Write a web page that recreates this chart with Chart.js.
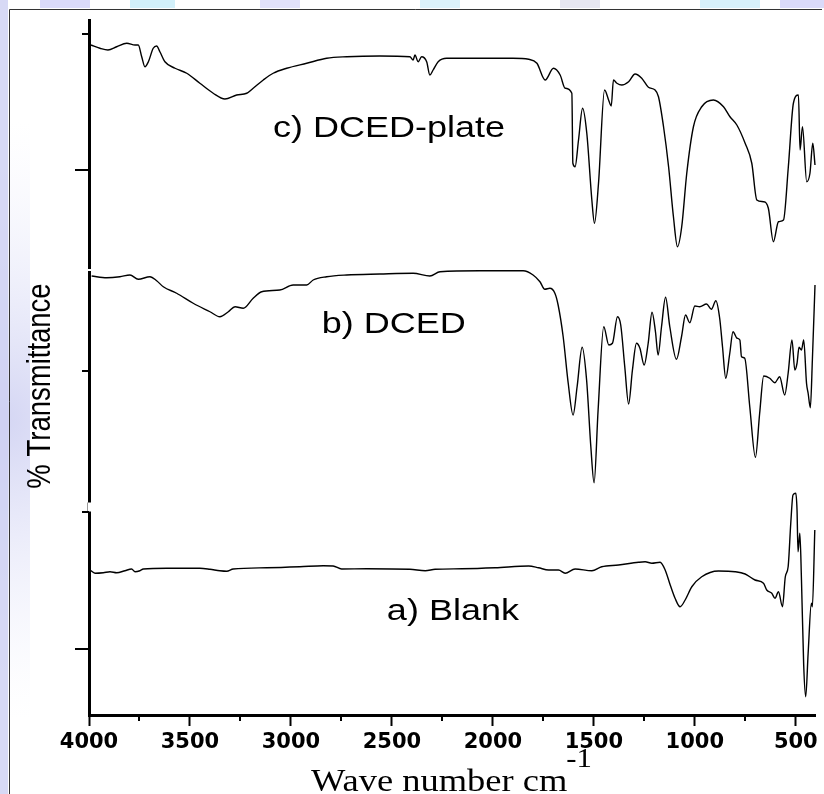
<!DOCTYPE html>
<html>
<head>
<meta charset="utf-8">
<script src="https://cdn.jsdelivr.net/npm/chart.js@4.4.1/dist/chart.umd.min.js"></script>
<style>
html,body{margin:0;padding:0;background:#fff;}
#wrap{width:824px;height:794px;position:relative;}
</style>
</head>
<body>
<div id="wrap"><canvas id="c"></canvas></div>
<script>
// ---- Data (wavenumber in cm-1, transmittance in arbitrary offset units per panel) ----
const wavenumbersC = [3990,3946,3906,3863,3813,3772,3756,3739,3723,3706,3682,3665,3649,3624,3574,3516,3451,3385,3327,3269,3219,3187,3137,3088,3021,2922,2823,2724,2560,2411,2395,2386,2370,2353,2328,2312,2296,2271,2229,2065,1901,1823,1782,1741,1700,1667,1642,1609,1604,1593,1576,1556,1535,1510,1497,1477,1447,1427,1414,1403,1386,1362,1328,1296,1263,1230,1197,1180,1155,1130,1106,1086,1065,1040,1007,966,908,858,826,792,751,718,693,660,636,611,586,561,537,512,487,479,467,446,430,416,405];
const transmittanceC = [90.0,88.7,88.0,89.3,90.7,90.0,90.0,85.3,81.3,83.3,88.7,89.6,87.3,83.3,80.7,78.7,74.7,70.7,68.4,70.0,70.7,72.7,76.0,78.7,80.7,82.7,84.7,85.3,85.6,85.3,84.0,86.0,83.3,85.3,83.3,78.0,80.0,83.3,84.7,84.7,84.7,84.3,82.7,76.0,80.7,78.0,72.7,70.7,42.7,41.3,52.0,64.7,54.7,28.0,18.7,34.7,72.0,68.0,65.6,76.0,74.7,74.0,75.3,78.4,76.7,73.1,72.0,69.3,57.3,41.3,21.3,9.3,17.3,38.7,57.3,65.3,68.0,65.3,61.3,58.0,50.7,42.7,28.0,27.3,24.7,11.3,19.3,20.0,41.3,66.7,70.0,48.0,57.3,35.3,38.7,50.7,42.0];

const wavenumbersB = [3987,3912,3847,3797,3756,3698,3665,3632,3566,3484,3401,3352,3310,3277,3236,3187,3145,3055,2989,2922,2890,2823,2724,2560,2395,2312,2262,2065,1850,1801,1767,1743,1718,1693,1677,1652,1627,1603,1583,1558,1536,1515,1499,1479,1451,1426,1408,1383,1367,1347,1328,1309,1289,1272,1251,1231,1212,1195,1182,1165,1145,1124,1091,1066,1046,1025,1000,976,942,918,896,877,863,847,827,811,791,777,769,753,728,700,679,659,629,604,580,555,538,519,505,494,484,472,461,447,439,428,418,405];
const transmittanceB = [92.6,91.9,92.3,93.0,91.3,92.3,90.7,88.3,85.7,81.7,78.3,76.3,78.3,80.3,79.7,83.7,86.3,87.0,89.0,89.0,91.0,92.3,93.0,93.4,93.7,92.6,94.3,94.7,94.7,93.0,90.3,87.3,87.7,85.7,81.0,68.3,49.7,37.0,48.3,64.1,51.0,24.3,9.9,39.0,72.3,65.0,65.7,76.3,73.0,56.3,41.4,55.0,65.7,63.7,57.0,65.7,78.1,70.3,61.0,72.3,84.1,72.3,59.3,68.3,77.0,73.9,80.6,80.3,81.4,79.3,82.7,75.7,64.3,51.7,61.7,70.3,67.7,67.0,60.3,59.7,40.3,20.1,37.7,52.6,51.7,49.9,52.3,45.0,53.7,67.0,55.0,57.7,64.1,63.0,67.0,49.7,45.7,39.9,59.0,89.0];

const wavenumbersA = [3995,3970,3929,3896,3863,3822,3789,3772,3748,3731,3615,3451,3401,3352,3318,3286,3120,2956,2840,2791,2749,2625,2411,2335,2286,2154,1989,1823,1774,1724,1675,1642,1593,1510,1461,1378,1279,1246,1213,1172,1147,1122,1098,1073,1048,1015,966,883,801,751,702,660,644,619,603,586,566,552,538,525,514,500,494,489,480,472,461,451,439,423,418,406];
const transmittanceA = [58.0,56.7,56.9,57.3,56.9,57.7,58.4,57.3,57.7,58.4,58.7,58.7,58.3,57.7,57.5,58.4,58.9,59.3,59.7,59.6,58.4,58.5,58.3,57.7,58.3,58.5,58.9,59.6,58.9,58.0,58.0,56.7,58.4,57.7,59.3,60.0,61.1,61.3,60.7,61.1,58.0,52.0,46.7,43.3,46.0,51.3,55.3,57.6,57.3,56.4,54.0,52.7,50.0,48.7,46.7,49.3,43.3,55.3,59.3,76.7,88.0,88.7,82.0,65.3,72.7,54.0,20.0,7.3,24.7,44.7,43.3,74.0];

const seriesLabels = ['c) DCED-plate', 'b) DCED', 'a) Blank'];
const xTickValues = [500,1000,1500,2000,2500,3000,3500,4000];
const xMinorTickValues = [750,1250,1750,2250,2750,3250,3750];
const panelCMajorTicks = [40], panelCMinorTicks = [94.4];
const panelBMajorTicks = [], panelBMinorTicks = [54.6];
const panelAMajorTicks = [26.4], panelAMinorTicks = [81.2];
const xTitle = 'Wave number cm', xTitleSup = '-1';
const yTitle = '% Transmittance';

const toPoints = (xs, ys) => xs.map((x, i) => ({x: x, y: ys[i]}));

const decor = {
  id: 'decor',
  beforeDraw(chart) {
    const ctx = chart.ctx;
    ctx.save();
    ctx.fillStyle = '#ffffff';
    ctx.fillRect(0, 0, chart.width, chart.height);
    // faint watermark tints at the page edges
    const g = ctx.createRadialGradient(0, 420, 10, 0, 420, 300);
    g.addColorStop(0, 'rgba(200,202,240,0.75)');
    g.addColorStop(1, 'rgba(236,238,252,0)');
    ctx.save();
    ctx.beginPath(); ctx.rect(0, 0, 30, 794); ctx.clip();
    ctx.fillStyle = g;
    ctx.fillRect(0, 100, 30, 640);
    ctx.restore();
    ctx.fillStyle = 'rgba(205,207,242,0.8)';
    ctx.fillRect(0, 0, 8, 794);
    const tops = [[40,90,'rgba(214,214,248,0.9)'],[130,175,'rgba(205,238,250,0.9)'],[260,300,'rgba(214,214,248,0.7)'],[420,460,'rgba(205,238,250,0.7)'],[560,600,'rgba(220,220,235,0.7)'],[700,760,'rgba(205,238,250,0.8)'],[780,824,'rgba(214,214,248,0.9)']];
    tops.forEach(t => { ctx.fillStyle = t[2]; ctx.fillRect(t[0], 0, t[1]-t[0], 8); });
    ctx.restore();
  },
  afterDraw(chart) {
    const ctx = chart.ctx;
    const area = chart.chartArea;
    const xs = chart.scales.x;
    ctx.save();
    // frame
    ctx.strokeStyle = '#333';
    ctx.lineWidth = 1;
    ctx.beginPath();
    ctx.moveTo(9.5, 794); ctx.lineTo(9.5, 9.5); ctx.lineTo(822, 9.5);
    ctx.stroke();

    // small breaks in the left axis between stacked panels
    const yC = chart.scales.yC, yB = chart.scales.yB, yA = chart.scales.yA;
    ctx.fillStyle = '#fff';
    ctx.fillRect(area.left - 2, yC.bottom - 1, 4, 2);
    ctx.fillRect(area.left - 2, yB.bottom - 5, 4, 9);
    ctx.strokeStyle = '#999';
    ctx.lineWidth = 1;
    ctx.beginPath(); ctx.moveTo(area.left - 1.5, yB.bottom - 5); ctx.lineTo(area.left - 1.5, yB.bottom + 4); ctx.stroke();

    // y ticks for each stacked panel
    ctx.strokeStyle = '#000';
    ctx.lineWidth = 2;
    const yt = [['yC', panelCMajorTicks, panelCMinorTicks], ['yB', panelBMajorTicks, panelBMinorTicks], ['yA', panelAMajorTicks, panelAMinorTicks]];
    yt.forEach(([id, maj, min]) => {
      const s = chart.scales[id];
      maj.forEach(v => { const y = Math.round(s.getPixelForValue(v)); ctx.beginPath(); ctx.moveTo(area.left, y); ctx.lineTo(area.left - 14, y); ctx.stroke(); });
      min.forEach(v => { const y = Math.round(s.getPixelForValue(v)); ctx.beginPath(); ctx.moveTo(area.left, y); ctx.lineTo(area.left - 7, y); ctx.stroke(); });
    });
    // x minor ticks
    xMinorTickValues.forEach(v => {
      const x = Math.round(xs.getPixelForValue(v));
      ctx.beginPath(); ctx.moveTo(x, area.bottom); ctx.lineTo(x, area.bottom + 6); ctx.stroke();
    });

    ctx.fillStyle = '#000';
    // series labels
    const lab = [[seriesLabels[0], 3089, 'yC', 53.2], [seriesLabels[1], 2847, 'yB', 69.8], [seriesLabels[2], 2525, 'yA', 38]];
    ctx.font = '30px "Liberation Sans", Arial, sans-serif';
    ctx.textAlign = 'left';
    ctx.textBaseline = 'alphabetic';
    lab.forEach(([t, w, id, v]) => {
      ctx.save();
      ctx.translate(xs.getPixelForValue(w), chart.scales[id].getPixelForValue(v));
      ctx.scale(1.2, 1);
      ctx.fillText(t, 0, 0);
      ctx.restore();
    });

    // y title
    ctx.save();
    ctx.translate(41, 386);
    ctx.rotate(-Math.PI / 2);
    ctx.scale(1, 1.2);
    ctx.font = '27.5px "Liberation Sans", Arial, sans-serif';
    ctx.textAlign = 'center';
    ctx.textBaseline = 'middle';
    ctx.fillText(yTitle, 0, 0);
    ctx.restore();

    // x title with superscript
    ctx.save();
    const sx = 1.14;
    ctx.font = '32px "Liberation Serif", "Times New Roman", serif';
    const w1 = ctx.measureText(xTitle).width;
    ctx.font = '27px "Liberation Serif", "Times New Roman", serif';
    const w2 = ctx.measureText(xTitleSup).width;
    const total = (w1 + w2) * sx;
    const cx = (area.left + area.right) / 2;
    ctx.translate(cx - total / 2, 791);
    ctx.scale(sx, 1);
    ctx.textAlign = 'left';
    ctx.textBaseline = 'alphabetic';
    ctx.font = '32px "Liberation Serif", "Times New Roman", serif';
    ctx.fillText(xTitle, 0, 0);
    ctx.font = '27px "Liberation Serif", "Times New Roman", serif';
    ctx.fillText(xTitleSup, w1 - 1, -24);
    ctx.restore();
    ctx.restore();
  }
};

const lineStyle = {borderColor: '#000', borderWidth: 1.4, pointRadius: 0, fill: false, cubicInterpolationMode: 'monotone', clip: false};

const hiddenY = (min, max, weight) => ({
  type: 'linear', position: 'left', stack: 'ir', stackWeight: weight, min: min, max: max,
  ticks: {display: false}, grid: {display: false},
  border: {display: true, color: '#000', width: 3},
  afterFit: s => { s.width = 0; }
});

new Chart(document.getElementById('c'), {
  type: 'line',
  data: {
    datasets: [
      Object.assign({label: seriesLabels[2], data: toPoints(wavenumbersA, transmittanceA), yAxisID: 'yA'}, lineStyle),
      Object.assign({label: seriesLabels[1], data: toPoints(wavenumbersB, transmittanceB), yAxisID: 'yB'}, lineStyle),
      Object.assign({label: seriesLabels[0], data: toPoints(wavenumbersC, transmittanceC), yAxisID: 'yC'}, lineStyle)
    ]
  },
  options: {
    responsive: true,
    maintainAspectRatio: false,
    animation: false,
    devicePixelRatio: 1,
    layout: {padding: {left: 89, top: 20, right: 9, bottom: 41}},
    plugins: {legend: {display: false}, tooltip: {enabled: false}, title: {display: false}},
    scales: {
      x: {
        type: 'linear', reverse: true, min: 405, max: 4000,
        afterBuildTicks: s => { s.ticks = xTickValues.map(v => ({value: v})); },
        afterFit: s => { s.height = 38; s.paddingLeft = 0; s.paddingRight = 0; },
        grid: {drawOnChartArea: false, drawTicks: true, tickLength: 11, tickWidth: 2, tickColor: '#000'},
        border: {display: true, color: '#000', width: 3},
        ticks: {color: '#000', padding: 4, maxRotation: 0, autoSkip: false,
                callback: v => String(v),
                font: {family: '"DejaVu Sans", sans-serif', weight: 'bold', size: 21}}
      },
      yA: hiddenY(0, 83, 83),
      yB: hiddenY(0, 95, 95),
      yC: hiddenY(0, 100, 100)
    }
  },
  plugins: [decor]
});
</script>
</body>
</html>
